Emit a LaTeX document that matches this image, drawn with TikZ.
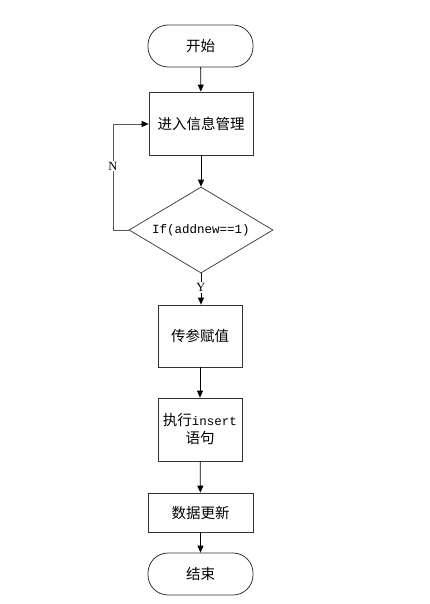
\documentclass[tikz,border=0pt]{standalone}
\usepackage{fontspec}
\setmainfont{Liberation Serif}
\newfontfamily\cjk{Noto Sans CJK SC}
\newfontfamily\monof{Liberation Mono}
\usetikzlibrary{shapes.geometric,arrows.meta}
\begin{document}
\begin{tikzpicture}[x=1pt,y=-1pt,
  every node/.style={font=\cjk\fontsize{14.5}{17}\selectfont, text=black},
  terminal/.style={draw=black!80, line width=0.8pt, rounded corners=20pt, minimum width=105pt, minimum height=42pt, inner sep=0pt},
  procbox/.style={draw=black!80, line width=0.8pt, inner sep=0pt},
  decision/.style={draw=black!80, line width=0.7pt, diamond, aspect=1.67, minimum width=144pt, minimum height=86pt, inner sep=0pt},
  flow/.style={-{Triangle[length=7pt,width=6pt]}, line width=0.8pt, black},
  loopline/.style={line width=0.8pt, black!65},
  lbl/.style={font=\rmfamily\fontsize{12.5}{14}\selectfont, fill=white, inner sep=1pt}
]
\useasboundingbox (0,0) rectangle (429,604);
\node[terminal] (start) at (200.5,46) {开始};
\node[procbox, minimum width=104pt, minimum height=63pt] (enter) at (201,123.5) {进入信息管理};
\node[decision] (dec) at (201,230) {\monof\fontsize{12.5}{15}\selectfont If(addnew==1)};
\node[procbox, minimum width=84pt, minimum height=62pt] (param) at (200,336) {传参赋值};
\node[procbox, minimum width=84pt, minimum height=63pt, align=center] (exec) at (200,429.5) {执行{\monof\fontsize{12.5}{15}\selectfont insert}\\[1pt]语句};
\node[procbox, minimum width=105pt, minimum height=39pt] (update) at (200.5,512.5) {数据更新};
\node[terminal] (end) at (200.5,574) {结束};

\draw[flow] (start) -- (enter);
\draw[flow] (enter) -- (dec);
\draw[flow] (dec.south) -- (dec.south |- param.north) node[lbl, pos=0.45] {Y};
\draw[flow] (param) -- (exec);
\draw[flow] (exec) -- (update);
\draw[flow] (update) -- (end);
\coordinate (lb) at (113,230);
\coordinate (lt) at (113,124);
\draw[loopline] (dec.west) -- (lb) -- (lt) node[lbl, pos=0.6] {N};
\draw[loopline] (lt) -- ([xshift=-7pt]lt -| enter.west);
\draw[flow] ([xshift=-8pt]lt -| enter.west) -- (lt -| enter.west);
\end{tikzpicture}
\end{document}
